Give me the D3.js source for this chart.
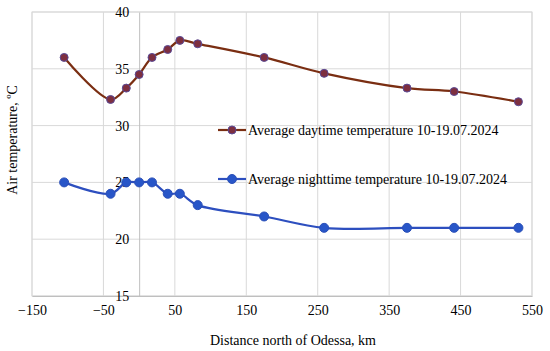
<!DOCTYPE html>
<html><head><meta charset="utf-8">
<script src="https://cdn.jsdelivr.net/npm/d3@7"></script>
<style>body{margin:0;background:#fff}svg{display:block}text{font-family:"Liberation Serif","Times New Roman",serif;fill:#000}</style>
</head><body><svg id="c" width="550" height="351"></svg>
<script>
const distance = [-105, -40, -18, 0, 18, 40, 57, 82, 175, 259, 375, 441, 531];
const dayTemp = [36, 32.3, 33.3, 34.5, 36, 36.7, 37.5, 37.2, 36, 34.6, 33.3, 33, 32.1];
const nightTemp = [25, 24, 25, 25, 25, 24, 24, 23, 22, 21, 21, 21, 21];
const xTicks = [-150, -50, 50, 150, 250, 350, 450, 550];
const yTicks = [15, 20, 25, 30, 35, 40];
const seriesNames = ["Average daytime temperature 10-19.07.2024", "Average nighttime temperature 10-19.07.2024"];

const svg = d3.select("#c");
const L = 32, R = 532, T = 12, B = 296;
const x = d3.scaleLinear().domain([-150, 550]).range([L, R]);
const y = d3.scaleLinear().domain([15, 40]).range([B, T]);

// grid
svg.append("g").selectAll("line").data(xTicks).join("line")
  .attr("x1", d => x(d)).attr("x2", d => x(d)).attr("y1", T).attr("y2", B)
  .attr("stroke", "#d9d9d9").attr("stroke-width", 1);
svg.append("g").selectAll("line").data(yTicks).join("line")
  .attr("x1", L).attr("x2", R).attr("y1", d => y(d)).attr("y2", d => y(d))
  .attr("stroke", "#d9d9d9").attr("stroke-width", 1);
svg.append("rect").attr("x", L).attr("y", T).attr("width", R - L).attr("height", B - T)
  .attr("fill", "none").attr("stroke", "#d9d9d9");

// x axis at bottom
const xAxis = d3.axisBottom(x).tickValues(xTicks).tickSize(0).tickPadding(9)
  .tickFormat(d => d < 0 ? "\u2212" + Math.abs(d) : d);
const gx = svg.append("g").attr("transform", `translate(0,${B})`).call(xAxis);
gx.select(".domain").attr("stroke", "#bfbfbf");
gx.selectAll("text").style("font-size", "14px").style("font-family", "Liberation Serif");

// y axis at x=0
const yAxis = d3.axisLeft(y).tickValues(yTicks).tickSize(0).tickPadding(10);
const gy = svg.append("g").attr("transform", `translate(${x(0)},0)`).call(yAxis);
gy.select(".domain").attr("stroke", "#bfbfbf");
gy.selectAll("text").style("font-size", "14px").style("font-family", "Liberation Serif");

// axis titles
svg.append("text").attr("x", 293).attr("y", 345).attr("text-anchor", "middle")
  .style("font-size", "14px").text("Distance north of Odessa, km");
svg.append("text").attr("transform", "translate(17,140) rotate(-90)").attr("text-anchor", "middle")
  .style("font-size", "14px").text("Air temperature, \u00BAC");

const curve = d3.curveCatmullRom.alpha(0.5);
const series = [
  {vals: dayTemp, line: "#7a2e12", fill: "#7d2f40", stroke: "#5a4a96", r: 4, ly: 130},
  {vals: nightTemp, line: "#2d4fbf", fill: "#2856c8", stroke: "#2a4fb8", r: 4.5, ly: 179}
];
series.forEach((s, i) => {
  const pts = distance.map((d, j) => [d, s.vals[j]]);
  svg.append("path").datum(pts)
    .attr("d", d3.line().x(d => x(d[0])).y(d => y(d[1])).curve(curve))
    .attr("fill", "none").attr("stroke", s.line).attr("stroke-width", 2.2);
  svg.append("g").selectAll("circle").data(pts).join("circle")
    .attr("cx", d => x(d[0])).attr("cy", d => y(d[1])).attr("r", s.r)
    .attr("fill", s.fill).attr("stroke", s.stroke).attr("stroke-width", 1);
  // legend
  svg.append("line").attr("x1", 218).attr("x2", 246).attr("y1", s.ly).attr("y2", s.ly)
    .attr("stroke", s.line).attr("stroke-width", 2.2);
  svg.append("circle").attr("cx", 232).attr("cy", s.ly).attr("r", s.r)
    .attr("fill", s.fill).attr("stroke", s.stroke);
  svg.append("text").attr("x", 248).attr("y", s.ly + 5).style("font-size", "14px").text(seriesNames[i]);
});
</script></body></html>
